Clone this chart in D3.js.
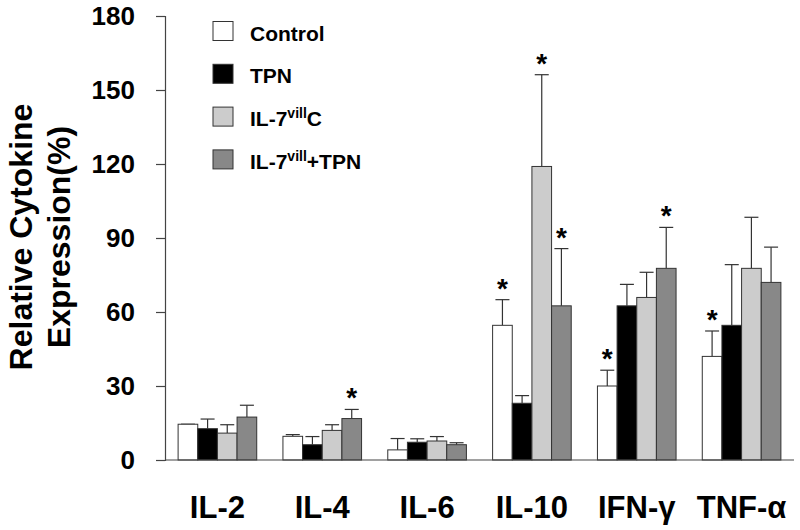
<!DOCTYPE html>
<html>
<head>
<meta charset="utf-8">
<script src="https://cdn.jsdelivr.net/npm/d3@7"></script>
<style>
  body { margin: 0; background: #fff; }
  svg { display: block; }
  text { font-family: Arial, "Liberation Sans", Helvetica, sans-serif; font-weight: bold; fill: #000; }
</style>
</head>
<body>
<svg id="chart" width="800" height="530"></svg>
<script>
// ---- data ----
const categories = ["IL-2", "IL-4", "IL-6", "IL-10", "IFN-\u03b3", "TNF-\u03b1"];
const seriesKeys = ["control", "tpn", "il7c", "il7tpn"];
const controlValues = [14.5, 9.6, 4.1, 54.6, 30.0, 42.0];
const controlErr    = [0.0, 0.7, 4.6, 10.4, 6.4, 10.3];
const tpnValues     = [12.7, 6.2, 7.2, 23.0, 62.5, 54.6];
const tpnErr        = [3.9, 3.3, 1.4, 3.1, 8.7, 24.6];
const il7cValues    = [10.9, 12.0, 7.7, 119.0, 65.9, 77.7];
const il7cErr       = [3.4, 2.3, 1.8, 37.2, 10.2, 20.7];
const il7tpnValues  = [17.4, 16.8, 6.2, 62.5, 77.7, 72.0];
const il7tpnErr     = [4.8, 3.7, 0.8, 23.2, 16.6, 14.3];
const controlStar = [0, 0, 0, 1, 1, 1];
const tpnStar     = [0, 0, 0, 0, 0, 0];
const il7cStar    = [0, 0, 0, 1, 0, 0];
const il7tpnStar  = [0, 1, 0, 1, 1, 0];
const yTicks = [0, 30, 60, 90, 120, 150, 180];
// legend label parts: [main, superscript, rest]
const legendLabels = [["Control", "", ""], ["TPN", "", ""], ["IL-7", "vill", "C"], ["IL-7", "vill", "+TPN"]];
const colors = ["#ffffff", "#000000", "#cccccc", "#888888"];

const valuesBy = { control: controlValues, tpn: tpnValues, il7c: il7cValues, il7tpn: il7tpnValues };
const errBy = { control: controlErr, tpn: tpnErr, il7c: il7cErr, il7tpn: il7tpnErr };
const starBy = { control: controlStar, tpn: tpnStar, il7c: il7cStar, il7tpn: il7tpnStar };

// ---- layout ----
const svg = d3.select("#chart");
const x0 = d3.scaleBand().domain(categories).range([165, 794]).paddingInner(0.25).paddingOuter(0.125);
const x1 = d3.scaleBand().domain(seriesKeys).range([0, x0.bandwidth()]).padding(0);
const y = d3.scaleLinear().domain([0, 180]).range([460, 16]);
const color = d3.scaleOrdinal().domain(seriesKeys).range(colors);

const rows = [];
categories.forEach((c, i) => {
  seriesKeys.forEach(k => {
    rows.push({ cat: c, key: k, v: valuesBy[k][i], e: errBy[k][i], star: starBy[k][i] });
  });
});

const g = svg.append("g");
const cx = d => x0(d.cat) + x1(d.key) + x1.bandwidth() / 2;

// error bars
g.selectAll(".err").data(rows).enter().append("line")
  .attr("x1", cx).attr("x2", cx)
  .attr("y1", d => y(d.v)).attr("y2", d => y(d.v + d.e))
  .attr("stroke", "#333").attr("stroke-width", 1.2);
g.selectAll(".cap").data(rows).enter().append("line")
  .attr("x1", d => cx(d) - 7).attr("x2", d => cx(d) + 7)
  .attr("y1", d => y(d.v + d.e)).attr("y2", d => y(d.v + d.e))
  .attr("stroke", "#333").attr("stroke-width", 1.2);

g.selectAll(".bar").data(rows).enter().append("rect")
  .attr("x", d => x0(d.cat) + x1(d.key))
  .attr("y", d => y(d.v))
  .attr("width", x1.bandwidth())
  .attr("height", d => y(0) - y(d.v))
  .attr("fill", d => color(d.key))
  .attr("stroke", "#333").attr("stroke-width", 1);

// stars
g.selectAll(".star").data(rows.filter(d => d.star)).enter().append("text")
  .attr("x", cx)
  .attr("y", d => y(d.v + d.e) - 2)
  .attr("text-anchor", "middle")
  .style("font-size", "28px")
  .text("*");

// y axis
const yAxis = d3.axisLeft(y).tickValues(yTicks).tickSize(9).tickPadding(21);
const ya = svg.append("g").attr("transform", "translate(165,0)").call(yAxis);
ya.select(".domain").attr("stroke", "#444").attr("stroke-width", 1.2);
ya.selectAll(".tick line").attr("stroke", "#444").attr("stroke-width", 1.2);
ya.selectAll(".tick text").style("font-size", "26px").style("font-family", "Arial, 'Liberation Sans', sans-serif").style("font-weight", "bold").attr("fill", "#000");

// x baseline
svg.append("line").attr("x1", 165).attr("x2", 794).attr("y1", y(0)).attr("y2", y(0))
  .attr("stroke", "#444").attr("stroke-width", 1.2);

// x labels
svg.selectAll(".xl").data(categories).enter().append("text")
  .attr("x", d => x0(d) + x0.bandwidth() / 2)
  .attr("y", 518)
  .attr("text-anchor", "middle")
  .style("font-size", "31px")
  .text(d => d);

// y label
const yl = svg.append("text").attr("transform", "translate(0,237) rotate(-90)")
  .attr("text-anchor", "middle").style("font-size", "32px");
yl.append("tspan").attr("x", 0).attr("y", 32).text("Relative Cytokine");
yl.append("tspan").attr("x", 0).attr("y", 70).text("Expression(%)");

// legend
const lg = svg.append("g");
legendLabels.forEach((parts, i) => {
  const top = 21.5 + i * 42.8;
  lg.append("rect").attr("x", 213).attr("y", top).attr("width", 20).attr("height", 19)
    .attr("fill", colors[i]).attr("stroke", "#333").attr("stroke-width", 1);
  const t = lg.append("text").attr("x", 250).attr("y", top + 19).style("font-size", "21px");
  t.append("tspan").text(parts[0]);
  if (parts[1]) {
    t.append("tspan").attr("dy", -8).style("font-size", "14px").text(parts[1]);
    t.append("tspan").attr("dy", 8).text(parts[2]);
  }
});
</script>
</body>
</html>
